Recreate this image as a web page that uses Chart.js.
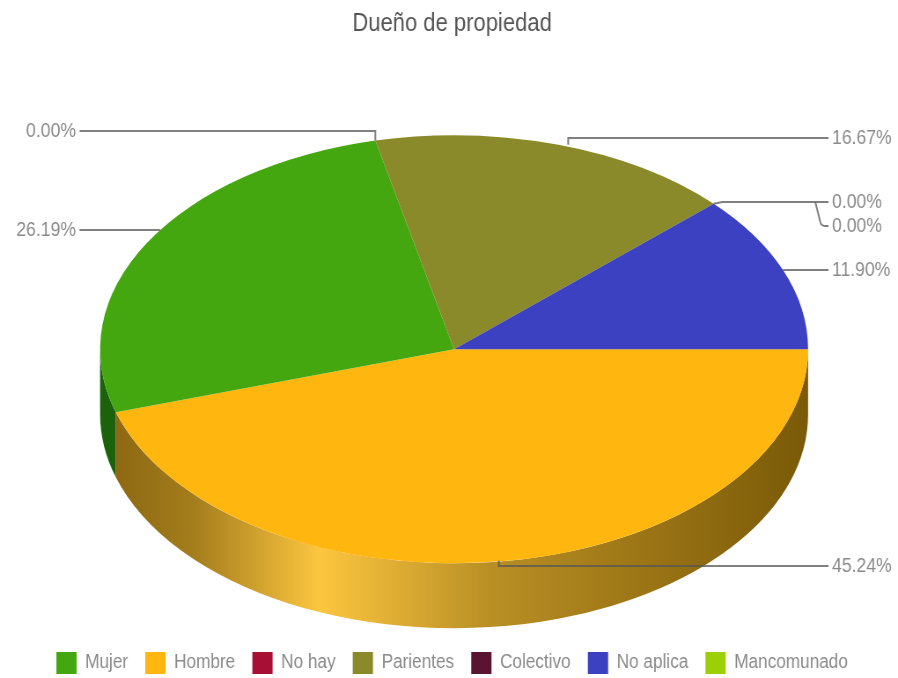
<!DOCTYPE html>
<html>
<head>
<meta charset="utf-8">
<title>Dueño de propiedad</title>
<script src="https://cdn.jsdelivr.net/npm/chart.js@4"></script>
<style>
  html, body { margin: 0; background: #fff; overflow: hidden; }
  /* el lienzo es mas ancho que la ventana: asi el texto queda angosto como en el original */
  canvas { display: block; width: 898px; height: 678px; filter: blur(0.5px); }
</style>
</head>
<body>
<canvas id="myChart" width="1020" height="678" style="width:898px;height:678px"></canvas>
<script>
// datos, en el orden en que se dibujan (horario desde las 3)
const categorias = ["Hombre", "Mujer", "No hay", "Parientes", "Colectivo", "Mancomunado", "No aplica"];
const valores = [45.24, 26.19, 0, 16.67, 0, 0, 11.90];
const colores = ["#ffb60f", "#45a70f", "#a80f35", "#8b8a2b", "#5a1330", "#9ccf04", "#3b41c0"];
// la leyenda va en otro orden
const ordenLeyenda = ["Mujer", "Hombre", "No hay", "Parientes", "Colectivo", "No aplica", "Mancomunado"];

// aspecto del pastel 3D (en x todo va dividido por la escala del lienzo)
const escalaX = 898 / 1020;
const radioX = 354 / escalaX;
const radioY = 214;
const grosor = 65;
const desplazaX = 2 / escalaX; // la leyenda no va centrada con el pastel
const xIzq = 76 / escalaX;
const xDer = 832 / escalaX;
const yEtiquetas = [566, 230, 131, 138, 202, 226, 270];
const ajusteAncla = [-9, 0, 0, 11, 0, 0, 0];
const fuente = "'Liberation Sans', sans-serif";

// degradado de la pared de Hombre, de izquierda a derecha
const paredHombre = [[0, "#8a6510"], [0.13, "#a37c1c"], [0.31, "#fcc63f"], [0.55, "#b98f25"], [0.78, "#9a7415"], [1, "#7a5a08"]];
const paredMujer = "#1b620b";

const pastel3d = {
  id: "pastel3d",
  beforeDatasetsDraw(chart) {
    const ctx = chart.ctx;
    const arcos = chart.getDatasetMeta(0).data;
    const cx = arcos[0].x + desplazaX, cy = arcos[0].y;

    // pared: solo la mitad de abajo se ve
    arcos.forEach((arco, i) => {
      const desde = Math.max(arco.startAngle, 0);
      const hasta = Math.min(arco.endAngle, Math.PI);
      if (hasta <= desde) return;
      let relleno = paredMujer;
      if (i == 0) {
        relleno = ctx.createLinearGradient(cx - radioX, 0, cx + radioX, 0);
        paredHombre.forEach(p => relleno.addColorStop(p[0], p[1]));
      }
      ctx.beginPath();
      ctx.ellipse(cx, cy, radioX, radioY, 0, desde, hasta);
      ctx.ellipse(cx, cy + grosor, radioX, radioY, 0, hasta, desde, true);
      ctx.closePath();
      ctx.fillStyle = relleno;
      ctx.fill();
    });

    // la tapa se estira a lo ancho para que quede elipse
    ctx.save();
    ctx.translate(cx, cy);
    ctx.scale(radioX / radioY, 1);
    ctx.translate(-arcos[0].x, -cy);
  },
  afterDatasetsDraw(chart) {
    const ctx = chart.ctx;
    ctx.restore();

    const arcos = chart.getDatasetMeta(0).data;
    const cx = arcos[0].x + desplazaX, cy = arcos[0].y;
    ctx.font = "20px " + fuente;
    ctx.textBaseline = "middle";
    ctx.lineWidth = 2;

    arcos.forEach((arco, i) => {
      const medio = (arco.startAngle + arco.endAngle) / 2;
      const y = yEtiquetas[i];
      const derecha = Math.cos(medio) > 0;
      const fin = derecha ? xDer - 4 : xIzq + 4;
      let ax = cx + radioX * Math.cos(medio) + ajusteAncla[i];
      let ay = cy + radioY * Math.sin(medio);

      ctx.beginPath();
      if (valores[i] > 0 && Math.abs(Math.sin(medio)) < 0.9) {
        // linea recta hasta el borde de la elipse
        const dy = (y - cy) / radioY;
        ax = cx + (derecha ? 1 : -1) * radioX * Math.sqrt(1 - dy * dy);
        ctx.moveTo(ax, y);
      } else if (i > 0 && valores[i] == 0 && valores[i - 1] == 0) {
        // dos ceros juntos comparten la linea
        ctx.moveTo(fin - 15, yEtiquetas[i - 1]);
        ctx.lineTo(fin - 9, y - 3);
        ctx.quadraticCurveTo(fin - 8, y, fin - 3, y);
      } else {
        ctx.moveTo(ax, ay);
        ctx.lineTo(valores[i] == 0 && derecha ? ax + 10 : ax, y);
      }
      ctx.lineTo(fin, y);
      ctx.strokeStyle = "rgba(85, 85, 85, 0.75)";
      ctx.stroke();

      ctx.fillStyle = "#8a8a8a";
      ctx.textAlign = derecha ? "left" : "right";
      ctx.fillText(valores[i].toFixed(2) + "%", derecha ? xDer : xIzq, y);
    });
  }
};

let ctx = document.getElementById("myChart");
let grafico = new Chart(ctx, {
  type: "pie",
  data: {
    labels: categorias,
    datasets: [{
      data: valores,
      backgroundColor: colores,
      borderWidth: 0,
      clip: false
    }]
  },
  options: {
    responsive: false,
    animation: false,
    rotation: 90,
    radius: radioY,
    layout: { padding: { left: 7, bottom: -6 } },
    plugins: {
      tooltip: { enabled: false },
      title: {
        display: true,
        text: "Dueño de propiedad",
        color: "#555",
        font: { family: fuente, size: 25, weight: "normal" },
        padding: { top: 9, bottom: 27 }
      },
      legend: {
        position: "bottom",
        labels: {
          boxWidth: 23,
          boxHeight: 22,
          padding: 19.5,
          color: "#8a8a8a",
          font: { family: fuente, size: 19.5 },
          sort: (a, b) => ordenLeyenda.indexOf(a.text) - ordenLeyenda.indexOf(b.text)
        }
      }
    }
  },
  plugins: [pastel3d]
});
</script>
</body>
</html>
